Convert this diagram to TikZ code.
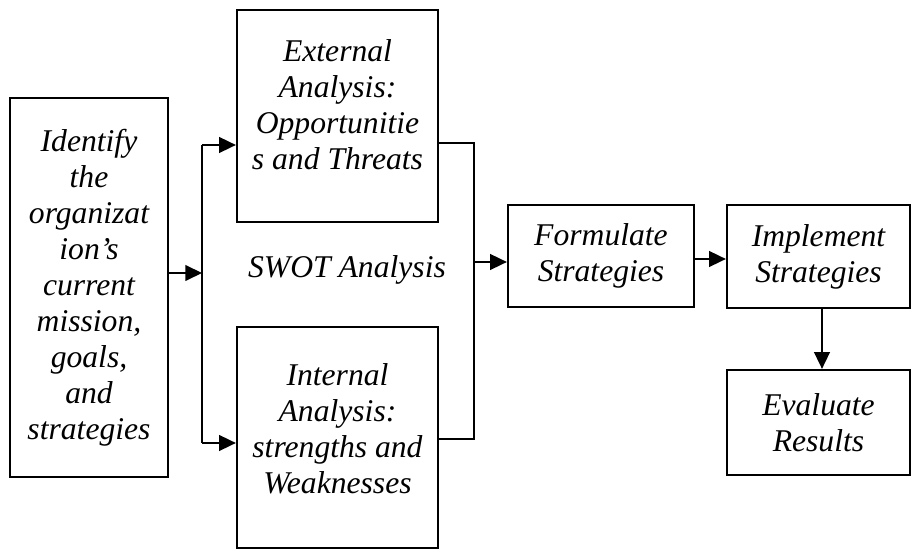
\documentclass[tikz,border=0pt]{standalone}
\usepackage{fontspec}
\setmainfont{Liberation Serif}
\usepackage{tikz}
\usetikzlibrary{arrows.meta}
\tikzset{
	box/.style={draw, line width=1.3pt, align=center, inner sep=0pt,
		font=\fontsize{18}{20.5}\selectfont\itshape},
	link/.style={line width=0.8pt},
	arr/.style={link, -{Triangle[length=9.5pt,width=9pt]}}
}

\begin{document}
\begin{tikzpicture}
	% page: 912 x 550 px, 50 px = 1 cm
	\useasboundingbox (0, 0) rectangle (18.24, 11);
	
	% boxes
	\node[box, minimum width=3.16cm, minimum height=7.58cm] (ident) at (1.78, 5.25)
		{Identify\\the\\organizat\\ion's\\current\\mission,\\goals,\\and\\strategies};
	\node[box, minimum width=4.02cm, minimum height=4.24cm, text depth=0.45cm] (ext) at (6.75, 8.68)
		{External\\Analysis:\\Opportunitie\\s and Threats};
	\node[box, minimum width=4.02cm, minimum height=4.42cm, text depth=0.35cm] (int) at (6.75, 2.25)
		{Internal\\Analysis:\\strengths and\\Weaknesses};
	\node[box, draw=none] (swot) at (6.94, 5.6) {SWOT Analysis};
	\node[box, minimum width=3.72cm, minimum height=2.04cm] (form) at (12.02, 5.88)
		{Formulate\\Strategies};
	\node[box, minimum width=3.66cm, minimum height=2.06cm] (impl) at (16.37, 5.87)
		{Implement\\Strategies};
	\node[box, minimum width=3.66cm, minimum height=2.1cm] (eval) at (16.37, 2.55)
		{Evaluate\\Results};
	
	% split into the two analyses
	\coordinate (split) at (4.04, 5.54);
	\coordinate (splitTop) at (4.04, 8.1);
	\coordinate (splitBot) at (4.04, 2.14);
	\draw[arr] (split -| ident.east) -- (split);
	\draw[link] (splitTop) -- (splitBot);
	\draw[arr] (splitTop) -- (splitTop -| ext.west);
	\draw[arr] (splitBot) -- (splitBot -| int.west);
	
	% merge into strategy
	\coordinate (mergeTop) at (9.48, 8.14);
	\coordinate (mergeBot) at (9.48, 2.22);
	\coordinate (merge) at (9.48, 5.76);
	\draw[link] (mergeTop -| ext.east) -- (mergeTop) -- (mergeBot) -- (mergeBot -| int.east);
	\draw[arr] (merge) -- (merge -| form.west);
	
	% formulate, implement, evaluate
	\coordinate (step) at (13.9, 5.82);
	\draw[arr] (step -| form.east) -- (step -| impl.west);
	\draw[arr] (16.44, 0 |- impl.south) -- (16.44, 0 |- eval.north);
\end{tikzpicture}
\end{document}
